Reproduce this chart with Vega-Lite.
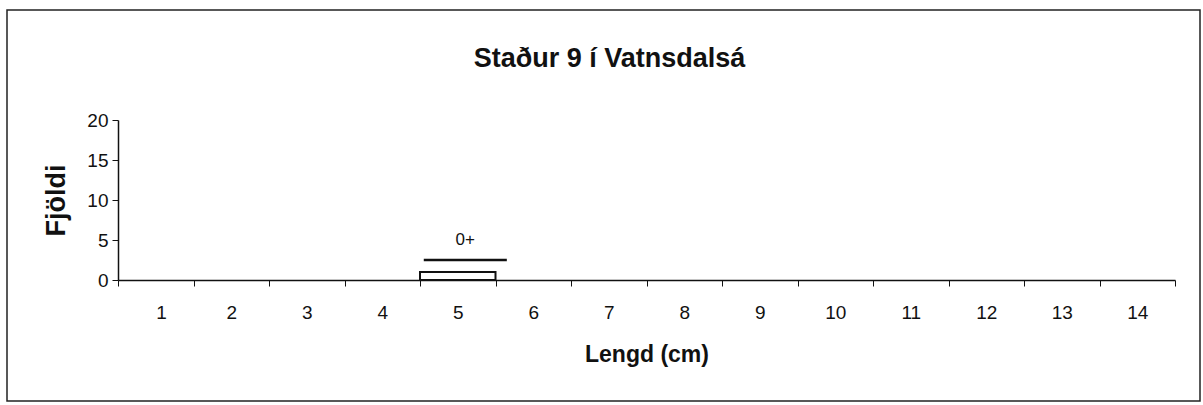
{
  "$schema": "https://vega.github.io/schema/vega-lite/v6.json",
  "width": 1193,
  "height": 391,
  "autosize": "none",
  "padding": {"left": 7, "top": 10, "right": 3, "bottom": 4},
  "background": "white",
  "config": {
    "view": {"stroke": "#222", "strokeWidth": 1.5},
    "font": "Liberation Sans"
  },
  "title": {
    "text": "Staður 9 í Vatnsdalsá",
    "fontSize": 27,
    "fontWeight": "bold",
    "color": "#111",
    "offset": -63,
    "anchor": "middle",
    "dx": 6
  },
  "datasets": {
    "bars": [{"lengd_fra": 4.5, "lengd_til": 5.5, "fjoldi": 1}],
    "notes": [{"x": 4.55, "x2": 5.65, "y": 2.5, "tx": 5.1, "ty": 5, "label": "0+"}]
  },
  "layer": [
    {
      "data": {"name": "bars"},
      "mark": {"type": "rect", "fill": "white", "stroke": "#111", "strokeWidth": 2},
      "encoding": {
        "x": {
          "field": "lengd_fra",
          "type": "quantitative",
          "scale": {"domain": [0.5, 14.5], "range": [111, 1168], "nice": false, "zero": false},
          "axis": {
            "orient": "bottom",
            "offset": -121,
            "values": [0.5, 1.5, 2.5, 3.5, 4.5, 5.5, 6.5, 7.5, 8.5, 9.5, 10.5, 11.5, 12.5, 13.5, 14.5],
            "labelExpr": "datum.value < 14 ? format(datum.value + 0.5, 'd') : ''",
            "labelOffset": 37.75,
            "labelFontSize": 19,
            "labelColor": "#111",
            "labelPadding": 17,
            "tickSize": 6,
            "tickColor": "#111",
            "domainColor": "#111",
            "domainWidth": 1.5,
            "grid": false,
            "title": "Lengd (cm)",
            "titleFontSize": 23,
            "titleFontWeight": "bold",
            "titleColor": "#111",
            "titlePadding": 21
          }
        },
        "x2": {"field": "lengd_til"},
        "y": {
          "field": "fjoldi",
          "type": "quantitative",
          "scale": {"domain": [0, 20], "range": [270, 110], "nice": false},
          "axis": {
            "orient": "left",
            "offset": -111,
            "values": [0, 5, 10, 15, 20],
            "labelFontSize": 19,
            "labelColor": "#111",
            "labelPadding": 4,
            "tickSize": 6,
            "tickColor": "#111",
            "domainColor": "#111",
            "domainWidth": 1.5,
            "grid": false,
            "title": "Fjöldi",
            "titleFontSize": 27,
            "titleFontWeight": "bold",
            "titleColor": "#111",
            "titlePadding": 16
          }
        },
        "y2": {"datum": 0}
      }
    },
    {
      "data": {"name": "notes"},
      "mark": {"type": "rule", "stroke": "#111", "strokeWidth": 2.5},
      "encoding": {
        "x": {"field": "x", "type": "quantitative"},
        "x2": {"field": "x2"},
        "y": {"field": "y", "type": "quantitative"}
      }
    },
    {
      "data": {"name": "notes"},
      "mark": {"type": "text", "fontSize": 17, "color": "#111", "baseline": "middle"},
      "encoding": {
        "x": {"field": "tx", "type": "quantitative"},
        "y": {"field": "ty", "type": "quantitative"},
        "text": {"field": "label"}
      }
    }
  ]
}
